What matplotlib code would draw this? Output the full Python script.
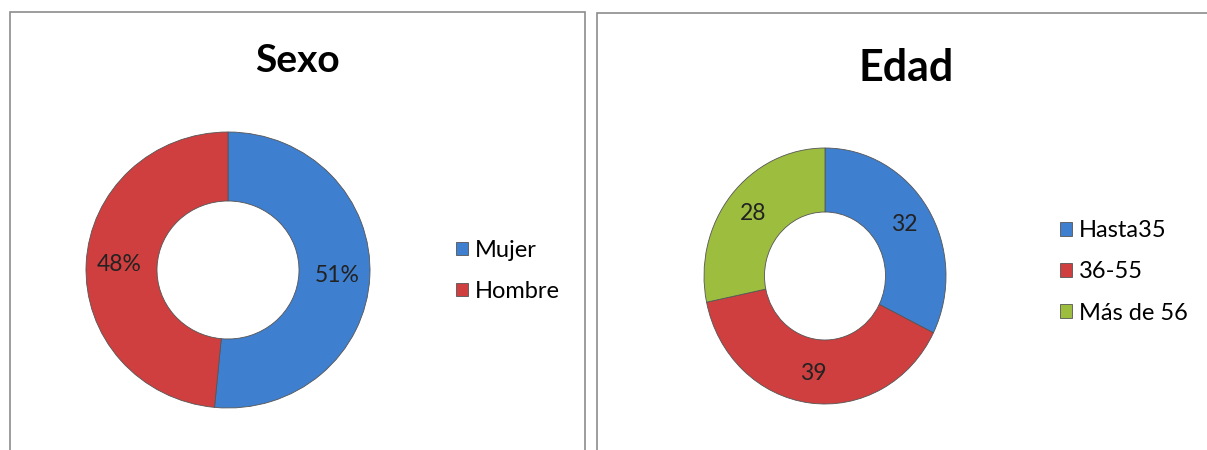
import numpy as np
import matplotlib
matplotlib.use('Agg')
from matplotlib import pyplot as plt
from matplotlib.patches import Rectangle

plt.rcParams['font.family'] = ['Lato', 'DejaVu Sans']

sexo_labels = ['Mujer', 'Hombre']
sexo_values = [51, 48]
sexo_text = ['51%', '48%']

edad_labels = ['Hasta35', '36-55', 'Más de 56']
edad_values = [32, 39, 28]
edad_text = ['32', '39', '28']

blue = '#3f7fcf'
red = '#cf3f3f'
green = '#9dbd3f'

W, H = 1207, 450
fig = plt.figure(figsize=(W / 100, H / 100), dpi=100)


def px_axes(cx, cy, rx, ry):
    # axes centred on pixel (cx, cy) measured from the top-left
    return fig.add_axes([(cx - rx) / W, (H - cy - ry) / H, 2 * rx / W, 2 * ry / H])


def donut(ax, values, texts, colors):
    wedges, _ = ax.pie(values, colors=colors, startangle=90, counterclock=False,
                       radius=1, wedgeprops=dict(width=0.5, edgecolor='#555555', linewidth=0.6))
    for w, t in zip(wedges, texts):
        ang = np.deg2rad((w.theta1 + w.theta2) / 2)
        ax.text(0.77 * np.cos(ang), 0.77 * np.sin(ang), t, ha='center', va='center',
                fontsize=16.5, color='#222222')
    ax.set_xlim(-1.0, 1.0)
    ax.set_ylim(-1.0, 1.0)
    ax.set_aspect('auto')
    ax.axis('off')
    return wedges


# panel borders
fig.add_artist(Rectangle((10 / W, -0.1), 575 / W, 1.1 - 12 / H, transform=fig.transFigure,
                         fill=False, edgecolor='#8c8c8c', linewidth=1.2))
fig.add_artist(Rectangle((597 / W, -0.1), 0.6, 1.1 - 13 / H, transform=fig.transFigure,
                         fill=False, edgecolor='#8c8c8c', linewidth=1.2))

# Sexo
ax1 = px_axes(228, 270, 142, 138)
w1 = donut(ax1, sexo_values, sexo_text, [blue, red])
fig.text(297 / W, 1 - 60 / H, 'Sexo', ha='center', va='center', fontsize=28, fontweight='bold')
fig.legend(w1, sexo_labels, loc='center left', bbox_to_anchor=(435 / W, 1 - 271 / H),
           frameon=False, fontsize=17, handlelength=0.5, handleheight=0.5,
           handletextpad=0.3, labelspacing=0.85)

# Edad
ax2 = px_axes(825, 276, 121, 128)
w2 = donut(ax2, edad_values, edad_text, [blue, red, green])
fig.text(906 / W, 1 - 68 / H, 'Edad', ha='center', va='center', fontsize=31, fontweight='bold')
fig.legend(w2, edad_labels, loc='center left', bbox_to_anchor=(1039 / W, 1 - 272 / H),
           frameon=False, fontsize=17, handlelength=0.5, handleheight=0.5,
           handletextpad=0.3, labelspacing=0.85)

fig.savefig('out.png', dpi=100)
